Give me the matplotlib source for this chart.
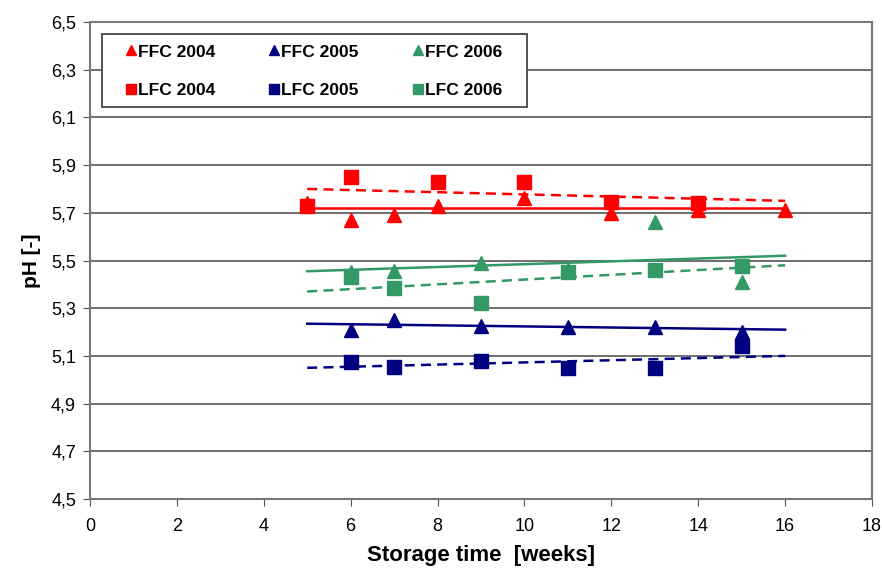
import matplotlib
matplotlib.use("Agg")
import matplotlib.pyplot as plt
from matplotlib.lines import Line2D
from matplotlib.patches import Rectangle

plt.rcParams['font.family'] = ['Liberation Sans', 'DejaVu Sans']

# Data
ffc2004_x = [5, 6, 7, 8, 10, 12, 14, 16]
ffc2004_y = [5.74, 5.67, 5.69, 5.73, 5.76, 5.70, 5.71, 5.71]
lfc2004_x = [5, 6, 8, 10, 12, 14]
lfc2004_y = [5.73, 5.85, 5.83, 5.83, 5.745, 5.74]

ffc2005_x = [6, 7, 9, 11, 13, 15]
ffc2005_y = [5.21, 5.25, 5.225, 5.22, 5.22, 5.20]
lfc2005_x = [6, 7, 9, 11, 13, 15]
lfc2005_y = [5.075, 5.055, 5.08, 5.05, 5.05, 5.14]

ffc2006_x = [6, 7, 9, 11, 13, 15]
ffc2006_y = [5.45, 5.455, 5.49, 5.46, 5.66, 5.41]
lfc2006_x = [6, 7, 9, 11, 13, 15]
lfc2006_y = [5.43, 5.385, 5.32, 5.45, 5.46, 5.475]

# Trend lines (endpoints at x=5 and x=16)
trend_x = [5, 16]
ffc2004_trend = [5.72, 5.72]
lfc2004_trend = [5.80, 5.75]
ffc2005_trend = [5.235, 5.21]
lfc2005_trend = [5.05, 5.10]
ffc2006_trend = [5.455, 5.52]
lfc2006_trend = [5.37, 5.48]

yticks = [4.5, 4.7, 4.9, 5.1, 5.3, 5.5, 5.7, 5.9, 6.1, 6.3, 6.5]
ytick_labels = ['4,5', '4,7', '4,9', '5,1', '5,3', '5,5', '5,7', '5,9', '6,1', '6,3', '6,5']
xticks = [0, 2, 4, 6, 8, 10, 12, 14, 16, 18]

RED = '#FF0000'
NAVY = '#000080'
GREEN = '#339966'

fig = plt.figure(figsize=(8.82, 5.68), dpi=100)
ax = fig.add_axes([90/882, 1 - 499/568, (872-90)/882, (499-22)/568])

ax.set_xlim(0, 18)
ax.set_ylim(4.5, 6.5)
ax.set_yticks(yticks)
ax.set_yticklabels(ytick_labels)
ax.set_xticks(xticks)
ax.yaxis.grid(True, color='#555555', linewidth=1.2)
ax.set_axisbelow(True)
for s in ax.spines.values():
    s.set_color('#777777')
    s.set_linewidth(1.5)
ax.tick_params(axis='both', direction='out', color='#555555', length=5, labelsize=13)
ax.tick_params(axis='x', pad=9)
ax.tick_params(axis='y', pad=5)

# trend lines
ax.plot(trend_x, ffc2004_trend, color=RED, lw=1.8, ls='-')
ax.plot(trend_x, lfc2004_trend, color=RED, lw=1.8, ls=(0, (4, 2.5)))
ax.plot(trend_x, ffc2005_trend, color=NAVY, lw=1.8, ls='-')
ax.plot(trend_x, lfc2005_trend, color=NAVY, lw=1.8, ls=(0, (4, 2.5)))
ax.plot(trend_x, ffc2006_trend, color=GREEN, lw=1.8, ls='-')
ax.plot(trend_x, lfc2006_trend, color=GREEN, lw=1.8, ls=(0, (4, 2.5)))

ms = 9.5
h1 = ax.plot(ffc2004_x, ffc2004_y, '^', color=RED, ms=ms, ls='none', label='FFC 2004')[0]
h2 = ax.plot(lfc2004_x, lfc2004_y, 's', color=RED, ms=ms, ls='none', label='LFC 2004')[0]
h3 = ax.plot(ffc2005_x, ffc2005_y, '^', color=NAVY, ms=ms, ls='none', label='FFC 2005')[0]
h4 = ax.plot(lfc2005_x, lfc2005_y, 's', color=NAVY, ms=ms, ls='none', label='LFC 2005')[0]
h5 = ax.plot(ffc2006_x, ffc2006_y, '^', color=GREEN, ms=ms, ls='none', label='FFC 2006')[0]
h6 = ax.plot(lfc2006_x, lfc2006_y, 's', color=GREEN, ms=ms, ls='none', label='LFC 2006')[0]

# legend frame drawn separately
frame = Rectangle((0.0154, 0.8218), 0.5434, 0.153, transform=ax.transAxes,
                  facecolor='white', edgecolor='#444444', lw=1.3, zorder=4)
ax.add_patch(frame)

handles = [Line2D([], [], marker=h.get_marker(), color=h.get_color(), ls='none', ms=7) for h in [h1, h2, h3, h4, h5, h6]]
labels = [h.get_label() for h in [h1, h2, h3, h4, h5, h6]]
leg = ax.legend(handles, labels, ncol=3, loc='upper left', bbox_to_anchor=(0.046, 0.953),
                borderaxespad=0, borderpad=0, frameon=False,
                prop={'weight': 'bold', 'size': 12.5}, handlelength=0.6, handletextpad=0.1,
                columnspacing=3.1, labelspacing=1.32)
leg.set_zorder(5)

ax.set_ylabel('pH [-]', fontsize=15, fontweight='bold', labelpad=7)
ax.set_xlabel('Storage time  [weeks]', fontsize=16, fontweight='bold', labelpad=7)

fig.savefig('out.png', dpi=100)
